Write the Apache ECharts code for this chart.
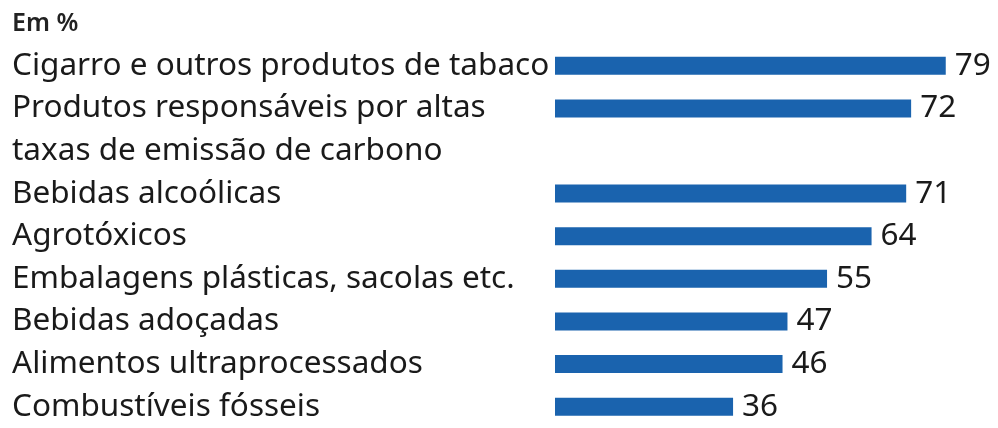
<!DOCTYPE html>
<html>
<head>
<meta charset="utf-8">
<script src="https://cdn.jsdelivr.net/npm/echarts@6/dist/echarts.min.js"></script>
<style>html,body{margin:0;padding:0;background:#fff}#c{width:998px;height:428px}</style>
</head>
<body>
<div id="c"></div>
<script>
const unitLabel = 'Em %';
const categories = [
  'Cigarro e outros produtos de tabaco',
  'Produtos responsáveis por altas taxas de emissão de carbono',
  'Bebidas alcoólicas',
  'Agrotóxicos',
  'Embalagens plásticas, sacolas etc.',
  'Bebidas adoçadas',
  'Alimentos ultraprocessados',
  'Combustíveis fósseis'
];
const tickLabels = [
  ['Cigarro e outros produtos de tabaco'],
  ['Produtos responsáveis por altas', 'taxas de emissão de carbono'],
  ['Bebidas alcoólicas'],
  ['Agrotóxicos'],
  ['Embalagens plásticas, sacolas etc.'],
  ['Bebidas adoçadas'],
  ['Alimentos ultraprocessados'],
  ['Combustíveis fósseis']
];
const values = [79, 72, 71, 64, 55, 47, 46, 36];

// Build axis slots: each label line gets one slot; the bar sits on the first line
const slotLabels = [];
const slotValues = [];
tickLabels.forEach((lines, i) => {
  lines.forEach((line, j) => {
    slotLabels.push(line);
    slotValues.push(j === 0 ? values[i] : '-');
  });
});

const FONT = '"Noto Sans", sans-serif';
const chart = echarts.init(document.getElementById('c'), null, {renderer: 'canvas'});
chart.setOption({
  animation: false,
  backgroundColor: '#ffffff',
  title: {
    text: unitLabel,
    left: 12, top: 11, padding: 0,
    textStyle: {fontFamily: FONT, fontSize: 25, fontWeight: 600, color: '#222222'}
  },
  grid: {left: 555, right: 47.3, top: 44.45, bottom: -4.35, containLabel: false},
  xAxis: {
    type: 'value', min: 0, max: 80,
    show: false
  },
  yAxis: {
    type: 'category',
    inverse: true,
    data: slotLabels,
    axisLine: {show: false},
    axisTick: {show: false},
    splitLine: {show: false},
    axisLabel: {
      align: 'left',
      margin: 543,
      fontFamily: FONT,
      fontSize: 31.5,
      color: '#1a1a1a'
    }
  },
  series: [{
    type: 'bar',
    data: slotValues,
    barWidth: 18,
    itemStyle: {color: '#1a63ae'},
    label: {
      show: true,
      position: 'right',
      distance: 9,
      fontFamily: FONT,
      fontSize: 31.5,
      color: '#1a1a1a'
    }
  }]
});
</script>
</body>
</html>
